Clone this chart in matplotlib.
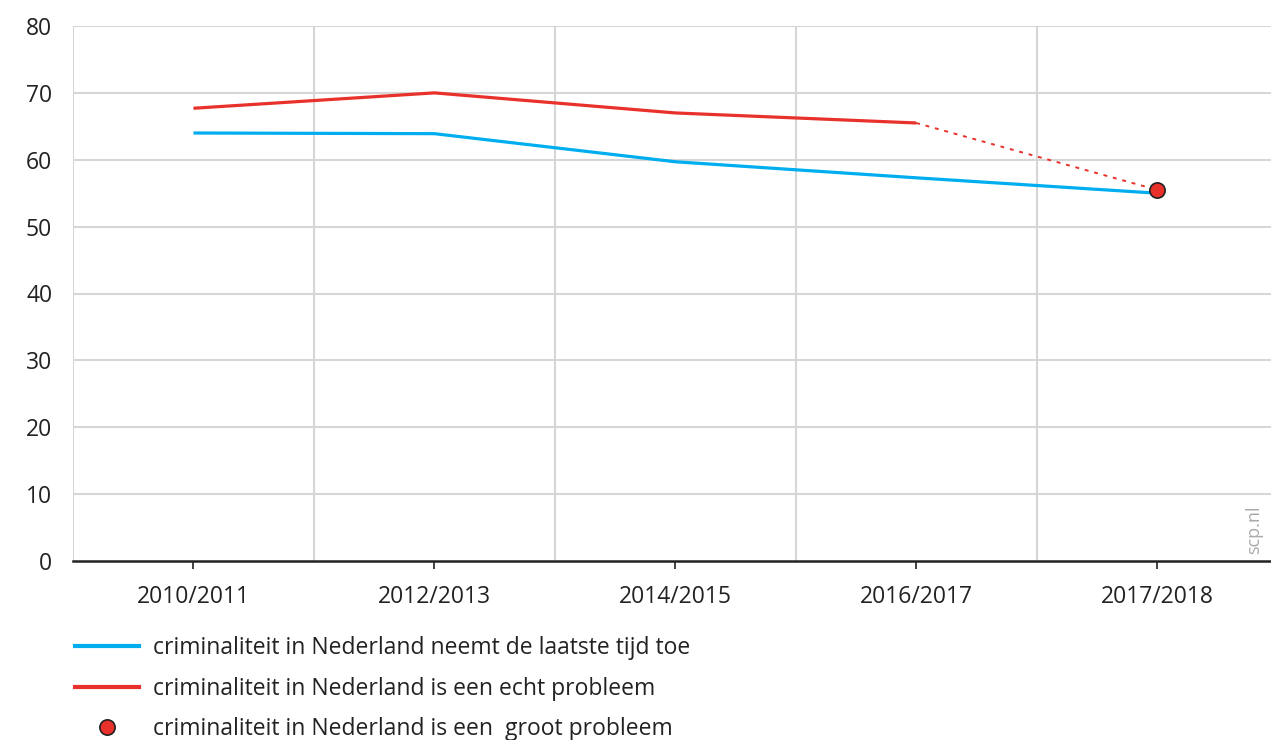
import matplotlib
matplotlib.use("Agg")
import matplotlib.pyplot as plt
from matplotlib.lines import Line2D

plt.rcParams["font.family"] = ["Open Sans", "DejaVu Sans"]

# --- data ---
periods = ["2010/2011", "2012/2013", "2014/2015", "2016/2017", "2017/2018"]
neemt_toe = [64.0, 63.9, 59.7, 57.3, 55.0]
echt_probleem = [67.7, 70.0, 67.0, 65.5]          # no value for 2017/2018
groot_probleem = [None, None, None, None, 55.5]    # only the last period

labels = [
    "criminaliteit in Nederland neemt de laatste tijd toe",
    "criminaliteit in Nederland is een echt probleem",
    "criminaliteit in Nederland is een  groot probleem",
]
y_ticks = [0, 10, 20, 30, 40, 50, 60, 70, 80]

BLUE = "#00aeef"
RED = "#e8312a"
GRID = "#d6d6d6"

fig = plt.figure(figsize=(12.71, 7.40), dpi=100)
ax = fig.add_axes([73 / 1271, 1 - 561 / 740, (1271 - 73) / 1271, (561 - 26) / 740])

x = list(range(len(periods)))
ax.plot(x, neemt_toe, color=BLUE, linewidth=2.3, solid_capstyle="butt", zorder=3)
ax.plot(x[:len(echt_probleem)], echt_probleem, color=RED, linewidth=2.3,
        solid_capstyle="butt", zorder=3)

# dotted link from the last "echt" value to the "groot" point
last = len(echt_probleem) - 1
gx = [i for i, v in enumerate(groot_probleem) if v is not None]
gy = [v for v in groot_probleem if v is not None]
ax.plot([last, gx[0]], [echt_probleem[last], gy[0]], color=RED, linewidth=1.4,
        linestyle=(0, (2, 3)), zorder=3)
ax.plot(gx, gy, "o", color=RED, markeredgecolor="#222222", markeredgewidth=1.2,
        markersize=11, zorder=4)

ax.set_xlim(-0.5, (1271 - 193) / 241)
ax.set_ylim(0, 80)
ax.set_yticks(y_ticks)
ax.set_xticks(x)
ax.set_xticklabels(periods)

# vertical grid lines sit between categories
for b in [i - 0.5 for i in range(len(periods) + 1)]:
    ax.axvline(b, color=GRID, linewidth=1.5, zorder=1)
for t in y_ticks[1:]:
    ax.axhline(t, color=GRID, linewidth=1.5, zorder=1)

for side in ["top", "right", "left"]:
    ax.spines[side].set_visible(False)
ax.spines["bottom"].set_color("#222222")
ax.spines["bottom"].set_linewidth(1.8)
ax.spines["bottom"].set_zorder(5)
ax.tick_params(axis="y", length=0, pad=15, labelsize=16.5, labelcolor="#222222")
ax.tick_params(axis="x", length=6, width=1.2, color="#222222", pad=11,
               labelsize=16.5, labelcolor="#222222")

fig.text(1254 / 1271, 1 - 530 / 740, "scp.nl", rotation=90, color="#aaaaaa",
         fontsize=13, ha="center", va="center")

handles = [
    Line2D([], [], color=BLUE, linewidth=3),
    Line2D([], [], color=RED, linewidth=3),
    Line2D([], [], linestyle="none", marker="o", color=RED,
           markeredgecolor="#222222", markeredgewidth=1.2, markersize=11),
]
fig.legend(handles, labels, loc="upper left", bbox_to_anchor=(66 / 1271, 1 - 627 / 740),
           frameon=False, fontsize=16.5, handlelength=2.8, handletextpad=0.6,
           labelspacing=0.72, labelcolor="#222222", borderaxespad=0)

fig.savefig("out.png", dpi=100)
